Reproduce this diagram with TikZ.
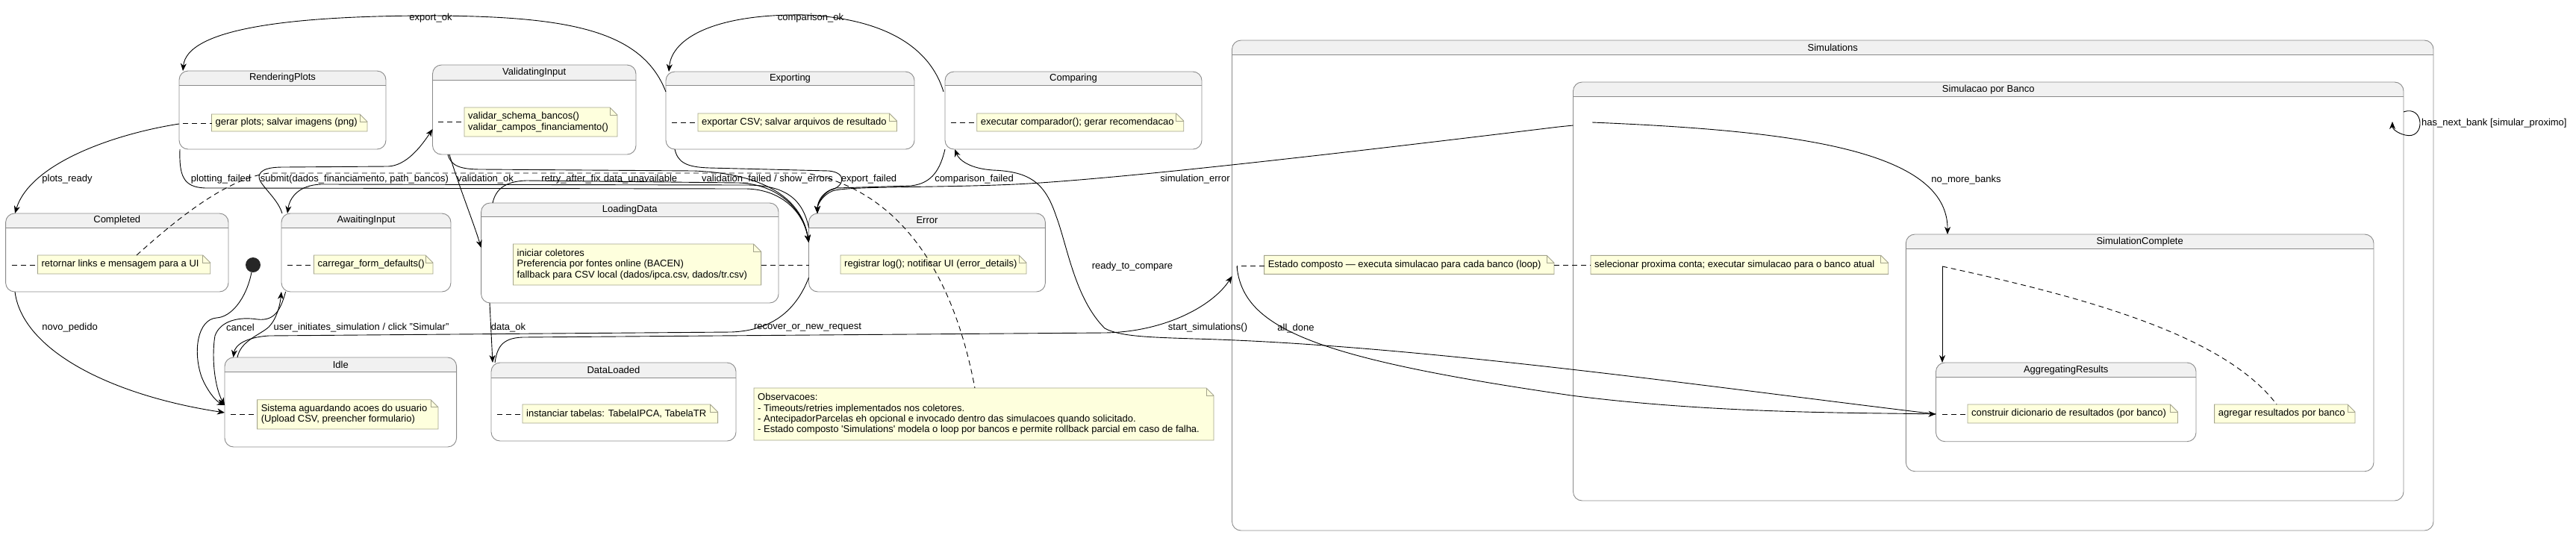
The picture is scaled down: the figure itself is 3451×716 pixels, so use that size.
\documentclass[tikz,border=0pt]{standalone}
\usepackage{fontspec}
\setmainfont{Liberation Sans}
\usetikzlibrary{arrows.meta}
\definecolor{stborder}{HTML}{8A8A8A}
\definecolor{sthead}{HTML}{F1F1F1}
\definecolor{notebg}{HTML}{FEFFDD}
\definecolor{noteborder}{HTML}{A3A38C}

% state box: name, top left x/y, bottom right x/y, header bottom y, title
\newcommand{\stbox}[7]{%
  \node[anchor=north west, minimum width={(#4)-(#2)}, minimum height={(#5)-(#3)}] (#1) at (#2,#3) {};
  \begin{scope}
    \clip[rounded corners=12pt] (#2,#3) rectangle (#4,#5);
    \fill[sthead] (#2,#3) rectangle (#4,#6);
  \end{scope}
  \draw[stline, rounded corners=12pt] (#2,#3) rectangle (#4,#5);
  \draw[stline] (#2,#6) -- (#4,#6);
  \node (#1-title) at ({(#2+#4)/2},{(#3+#6)/2}) {#7};
}
% note: name, top left x/y, bottom right x/y, text
\newcommand{\notebox}[6]{%
  \filldraw[fill=notebg, draw=noteborder, line width=0.9pt] (#2,#3) -- ({#4-10},#3) -- (#4,{#3+10}) -- (#4,#5) -- (#2,#5) -- cycle;
  \draw[draw=noteborder, line width=0.9pt] ({#4-10},#3) -- ({#4-10},{#3+10}) -- (#4,{#3+10});
  \node[notetext, anchor=west] (#1) at ({#2+5},{(#3+#5)/2}) {#6};
}

\begin{document}
\begin{tikzpicture}[x=1pt,y=-1pt,
  every node/.style={font=\fontsize{13}{14.4}\selectfont, inner sep=0pt},
  stline/.style={draw=stborder, line width=0.9pt},
  trans/.style={line width=0.9pt, -{Stealth[length=10pt,width=8pt,inset=3pt]}},
  notelink/.style={line width=0.9pt, dash pattern=on 7pt off 5pt},
  notetext/.style={align=left},
  initdot/.style={circle, fill=black!85, minimum size=20pt}]
  \useasboundingbox (0,0) rectangle (3451,716);

  \stbox{sims}{1650.5}{54}{3260}{711}{73.3}{Simulations}
  \stbox{porbanco}{2107.5}{110}{3220}{671}{129.3}{Simulacao por Banco}
  \stbox{simcomplete}{2553.3}{314}{3180}{631.7}{333.3}{SimulationComplete}
  \stbox{aggregating}{2593.5}{486}{2942}{591.7}{505.3}{AggregatingResults}
  \stbox{rendering}{240}{95}{517}{200}{114}{RenderingPlots}
  \stbox{validating}{579.5}{87}{852}{207}{107}{ValidatingInput}
  \stbox{exporting}{892}{96}{1225}{200}{114.5}{Exporting}
  \stbox{comparing}{1266}{96}{1610}{200}{114.5}{Comparing}
  \stbox{completed}{7.6}{286}{306}{391}{305}{Completed}
  \stbox{awaiting}{377}{286}{604}{391}{305}{AwaitingInput}
  \stbox{loading}{644.6}{272}{1043}{406}{290.5}{LoadingData}
  \stbox{idle}{301}{479}{611.6}{599}{498}{Idle}
  \stbox{dataloaded}{658}{486}{986}{591}{506}{DataLoaded}
  \stbox{error}{1083.5}{286}{1400.4}{391}{305}{Error}

  \node[initdot] (init) at (339,355) {};

  \coordinate (exp-w) at (892,123);
  \coordinate (rp-n) at (245,95);
  \coordinate (cmp-w) at (1264,123);
  \coordinate (exp-n) at (896,96);
  \coordinate (rp-w) at (240,166);
  \coordinate (cpl-n) at (20,286);
  \coordinate (rp-s) at (241,200);
  \coordinate (err-w) at (1083.5,325);
  \coordinate (ld-n) at (660,272);
  \coordinate (vi-s) at (600,207);
  \coordinate (exp-s) at (904,200);
  \coordinate (err-n) at (1095,286);
  \coordinate (cmp-s) at (1266,200);
  \coordinate (pb-w) at (2107.5,168);
  \coordinate (err-wn) at (1083.5,305);
  \coordinate (aw-n) at (385,286);
  \coordinate (aw-nw) at (378,286);
  \coordinate (vi-w) at (579.5,173);
  \coordinate (vi-sw) at (602,207);
  \coordinate (ld-w) at (644.6,332);
  \coordinate (ld-s) at (656,406);
  \coordinate (dl-n) at (660,486);
  \coordinate (dl-nw) at (663,486);
  \coordinate (err-sw) at (1083.5,372);
  \coordinate (idle-n) at (312.5,479);
  \coordinate (idle-n2) at (318,479);
  \coordinate (idle-w1) at (301,543);
  \coordinate (idle-w2) at (301,553);
  \coordinate (sims-w) at (1650.5,370);
  \coordinate (sims-in) at (1657,357);
  \coordinate (agg-w) at (2593.5,555);
  \coordinate (agg-n) at (2602,486);
  \coordinate (cmp-sw) at (1279,200);
  \coordinate (pb-in) at (2133,164);
  \coordinate (sc-n) at (2609,314);
  \coordinate (sc-in) at (2602,357);
  \coordinate (pb-e1) at (3220,150);
  \coordinate (pb-e2) at (3205,163);
  \coordinate (aw-sw) at (382.6,391);
  \coordinate (aw-s) at (377,391);
  \coordinate (cpl-sw) at (20,391);

  \draw[trans] (exp-w) .. controls (860,40) and (760,22) .. (580,21) .. controls (380,21) and (250,40) .. (rp-n);
  \draw[trans] (cmp-w) .. controls (1245,60) and (1180,25) .. (1080,20) .. controls (960,18) and (900,50) .. (exp-n);
  \draw[trans] (rp-w) .. controls (150,180) and (40,220) .. (cpl-n);
  \draw[trans] (rp-s) .. controls (240,235) and (245,251) .. (275,252) -- (1000,253) .. controls (1045,254) and (1076,282) .. (err-w);
  \draw[trans] (ld-n) .. controls (664,254) and (676,243) .. (705,242) -- (990,245) .. controls (1042,247) and (1076,280) .. (err-w);
  \draw[trans] (vi-s) .. controls (604,223) and (618,227) .. (645,227) -- (930,229) .. controls (1030,233) and (1075,270) .. (err-w);
  \draw[trans] (exp-s) .. controls (908,218) and (920,224) .. (950,225) -- (1110,229) .. controls (1135,231) and (1132,250) .. (1112,255) .. controls (1100,262) and (1095,275) .. (err-n);
  \draw[trans] (cmp-s) .. controls (1260,225) and (1250,246) .. (1220,249) -- (1120,252) .. controls (1102,256) and (1095,270) .. (err-n);
  \draw[trans] (pb-w) -- (2088,170) .. controls (1800,205) and (1500,240) .. (1360,247) .. controls (1250,252) and (1135,249) .. (1115,256) .. controls (1101,262) and (1095,275) .. (err-n);
  \draw[trans] (err-wn) .. controls (1075,265) and (1050,248) .. (1000,248) -- (430,247) .. controls (400,248) and (388,265) .. (aw-n);
  \draw[trans] (aw-nw) .. controls (372,265) and (345,246) .. (347,236) .. controls (349,227) and (360,224) .. (380,224) -- (520,223) .. controls (545,222) and (565,195) .. (vi-w);
  \draw[trans] (vi-sw) .. controls (615,250) and (635,300) .. (ld-w);
  \draw[trans] (ld-s) -- (dl-n);
  \draw[trans] (err-sw) .. controls (1065,420) and (1030,443) .. (980,445) -- (360,450) .. controls (330,452) and (315,462) .. (idle-n);
  \draw[trans] (dl-nw) .. controls (666,466) and (672,453) .. (700,452) -- (1480,446) .. controls (1560,445) and (1625,410) .. (sims-w);
  \draw[trans] (agg-w) .. controls (2300,520) and (1900,462) .. (1600,454) .. controls (1540,452) and (1500,451) .. (1480,440) .. controls (1440,400) and (1430,330) .. (1415,290) .. controls (1400,245) and (1380,230) .. (1330,228) .. controls (1300,226) and (1285,215) .. (cmp-sw);
  \draw[trans] (sims-in) .. controls (1665,440) and (1760,480) .. (2105,530) .. controls (2300,555) and (2500,553) .. (agg-w);
  \draw[trans] (pb-in) .. controls (2400,175) and (2610,200) .. (sc-n);
  \draw[trans] (pb-e1) .. controls (3248,140) and (3250,188) .. (3222,181) .. controls (3210,178) and (3205,172) .. (pb-e2);
  \draw[trans] (sc-in) -- (agg-n);
  \draw[trans] (init) .. controls (330,400) and (310,425) .. (290,426) .. controls (265,428) and (258,470) .. (270,505) .. controls (278,525) and (290,538) .. (idle-w1);
  \draw[trans] (aw-sw) .. controls (375,420) and (365,430) .. (345,428) .. controls (320,424) and (295,430) .. (288,450) .. controls (283,480) and (288,520) .. (idle-w1);
  \draw[trans] (cpl-sw) .. controls (30,470) and (150,530) .. (idle-w2);
  \draw[trans] (idle-n2) .. controls (322,458) and (345,450) .. (358,440) .. controls (370,430) and (375,410) .. (aw-s);

  \notebox{n-render}{283.5}{153}{492}{176}{gerar plots; salvar imagens (png)}
  \notebox{n-valid}{622}{144}{827}{183}{validar\_schema\_bancos()\\validar\_campos\_financiamento()}
  \notebox{n-export}{935}{152}{1201.5}{176}{exportar CSV; salvar arquivos de resultado}
  \notebox{n-compare}{1308.7}{152}{1585.7}{176}{executar comparador(); gerar recomendacao}
  \notebox{n-completed}{50.4}{342}{281.7}{367}{retornar links e mensagem para a UI}
  \notebox{n-await}{420.5}{342}{580}{367}{carregar\_form\_defaults()}
  \notebox{n-loading}{687.5}{327}{1019.6}{382}{iniciar coletores\\Preferencia por fontes online (BACEN)\\fallback para CSV local (dados/ipca.csv, dados/tr.csv)}
  \notebox{n-error}{1126}{342}{1375}{367}{registrar log(); notificar UI (error\_details)}
  \notebox{n-idle}{344.6}{535.7}{587}{575}{Sistema aguardando acoes do usuario\\(Upload CSV, preencher formulario)}
  \notebox{n-dataloaded}{700}{542}{961.6}{567}{instanciar tabelas: TabelaIPCA, TabelaTR}
  \notebox{n-obs}{1010}{520}{1626}{590}{Observacoes:\\- Timeouts/retries implementados nos coletores.\\- AntecipadorParcelas eh opcional e invocado dentro das simulacoes quando solicitado.\\- Estado composto \textquotesingle Simulations\textquotesingle{} modela o loop por bancos e permite rollback parcial em caso de falha.}
  \notebox{n-composto}{1693.6}{342.3}{2082}{367.3}{Estado composto — executa simulacao para cada banco (loop)}
  \notebox{n-selecionar}{2131}{342.3}{2529.7}{367.3}{selecionar proxima conta; executar simulacao para o banco atual}
  \notebox{n-construir}{2636}{542}{2917.5}{567}{construir dicionario de resultados (por banco)}
  \notebox{n-agregar}{2966.6}{542}{3155}{567}{agregar resultados por banco}

  \draw[notelink] (245,165) -- (283.5,165);
  \draw[notelink] (587,163) -- (622,163);
  \draw[notelink] (900,164) -- (935,164);
  \draw[notelink] (1273.5,164) -- (1308.7,164);
  \draw[notelink] (15.6,355) -- (50.4,355);
  \draw[notelink] (385,355) -- (420.5,355);
  \draw[notelink] (309,555) -- (344.6,555);
  \draw[notelink] (665.6,555) -- (700,555);
  \draw[notelink] (1019.6,355) -- (1083.5,355);
  \draw[notelink] (2601.8,555) -- (2636,555);
  \draw[notelink] (1657,362) -- (1657,356) -- (1693.6,356);
  \draw[notelink] (2082,355) -- (2131,355);
  \draw[notelink] (sc-in) .. controls (2800,400) and (2980,450) .. (3050,542);
  \draw[notelink] (183,342) .. controls (230,300) and (300,240) .. (360,232) -- (1080,232) .. controls (1180,250) and (1270,330) .. (1306,520);

  \node (l-exportok) at (577,24) {export\_ok};
  \node (l-compok) at (1086,24) {comparison\_ok};
  \node (l-plotsready) at (90,240) {plots\_ready};
  \node (l-plotfail) at (296,240) {plotting\_failed};
  \node (l-submit) at (475,240) {submit(dados\_financiamento, path\_bancos)};
  \node (l-valok) at (650,240) {validation\_ok};
  \node (l-retry) at (765,240) {retry\_after\_fix};
  \node (l-dataunav) at (858,240) {data\_unavailable};
  \node (l-valfail) at (1028,240) {validation\_failed / show\_errors};
  \node (l-expfail) at (1164,240) {export\_failed};
  \node (l-compfail) at (1305,240) {comparison\_failed};
  \node (l-simerr) at (1601,240) {simulation\_error};
  \node (l-nomore) at (2634,241) {no\_more\_banks};
  \node[anchor=west] (l-hasnext) at (3244,165) {has\_next\_bank [simular\_proximo]};
  \node (l-novo) at (93.6,439) {novo\_pedido};
  \node (l-cancel) at (322,439) {cancel};
  \node (l-userinit) at (484,439) {user\_initiates\_simulation / click "Simular"};
  \node (l-dataok) at (681,439) {data\_ok};
  \node (l-recover) at (1082,439) {recover\_or\_new\_request};
  \node (l-startsim) at (1618,439) {start\_simulations()};
  \node (l-alldone) at (1736,440) {all\_done};
  \node (l-ready) at (1517,357) {ready\_to\_compare};
\end{tikzpicture}
\end{document}
